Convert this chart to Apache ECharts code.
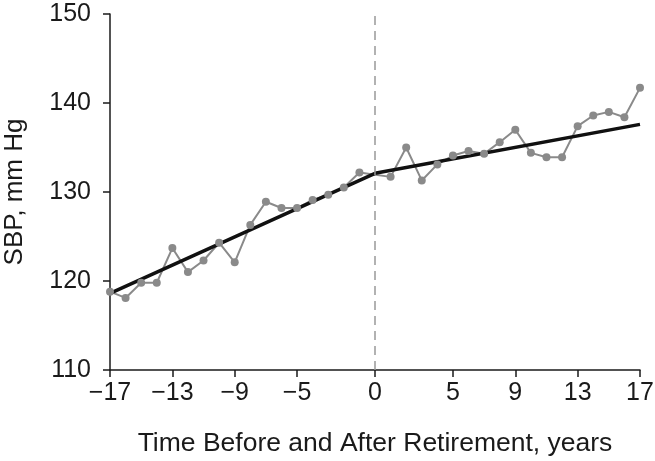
<!DOCTYPE html>
<html>
<head>
<meta charset="utf-8">
<script src="https://cdn.jsdelivr.net/npm/echarts@6/dist/echarts.min.js"></script>
<style>html,body{margin:0;padding:0;background:#fff}#c{width:655px;height:461px}</style>
</head>
<body>
<div id="c"></div>
<script>
var years = [-17,-16,-15,-14,-13,-12,-11,-10,-9,-8,-7,-6,-5,-4,-3,-2,-1,1,2,3,4,5,6,7,8,9,10,11,12,13,14,15,16,17];
var sbp = [118.8,118.1,119.8,119.8,123.7,121.0,122.3,124.3,122.1,126.3,128.9,128.2,128.2,129.1,129.7,130.5,132.2,131.7,135.0,131.3,133.1,134.1,134.6,134.3,135.6,137.0,134.4,133.9,133.9,137.4,138.6,139.0,138.4,141.7];
var fitYears = [-17,0,17];
var fitValues = [118.6,132.1,137.6];
var xTicks = [-17,-13,-9,-5,0,5,9,13,17];
var yMin = 110, yMax = 150, yStep = 10;

var obs = years.map(function(y,i){return [y,sbp[i]];});
var fit = fitYears.map(function(y,i){return [y,fitValues[i]];});
var font = 'Liberation Sans, Arial, sans-serif';
var chart = echarts.init(document.getElementById('c'));
chart.setOption({
  animation:false,
  grid:{left:110,right:15,top:14,bottom:91,containLabel:false,outerBoundsMode:'none'},
  xAxis:{
    type:'value',min:-17,max:17,
    name:'Time Before and After Retirement, years',
    nameLocation:'middle',nameGap:60,
    nameTextStyle:{fontFamily:font,fontSize:26.5,color:'#1a1a1a'},
    axisLine:{show:true,onZero:false,lineStyle:{color:'#1a1a1a',width:1.5}},
    axisTick:{show:true,length:7,customValues:xTicks,lineStyle:{color:'#1a1a1a',width:1.5}},
    axisLabel:{customValues:xTicks,margin:11,fontFamily:font,fontSize:25,color:'#1a1a1a',
      formatter:function(v){return String(v).replace('-','\u2212');}},
    splitLine:{show:false}
  },
  yAxis:{
    type:'value',min:yMin,max:yMax,interval:yStep,
    name:'SBP, mm Hg',nameLocation:'middle',nameGap:82,
    nameTextStyle:{fontFamily:font,fontSize:26,color:'#1a1a1a'},
    axisLine:{show:true,onZero:false,lineStyle:{color:'#1a1a1a',width:1.5}},
    axisTick:{show:true,length:7,lineStyle:{color:'#1a1a1a',width:1.5}},
    axisLabel:{margin:19,fontFamily:font,fontSize:25,color:'#1a1a1a'},
    splitLine:{show:false}
  },
  series:[
    {type:'line',data:obs,symbol:'circle',symbolSize:8,
      itemStyle:{color:'#8a8a8a'},lineStyle:{color:'#8a8a8a',width:2},
      markLine:{silent:true,symbol:['none','none'],label:{show:false},
        lineStyle:{color:'#999',type:[9,6],width:1.5},
        data:[{xAxis:0}]}
    },
    {type:'line',data:fit,symbol:'none',lineStyle:{color:'#111',width:3.5},z:3}
  ]
});
</script>
</body>
</html>
